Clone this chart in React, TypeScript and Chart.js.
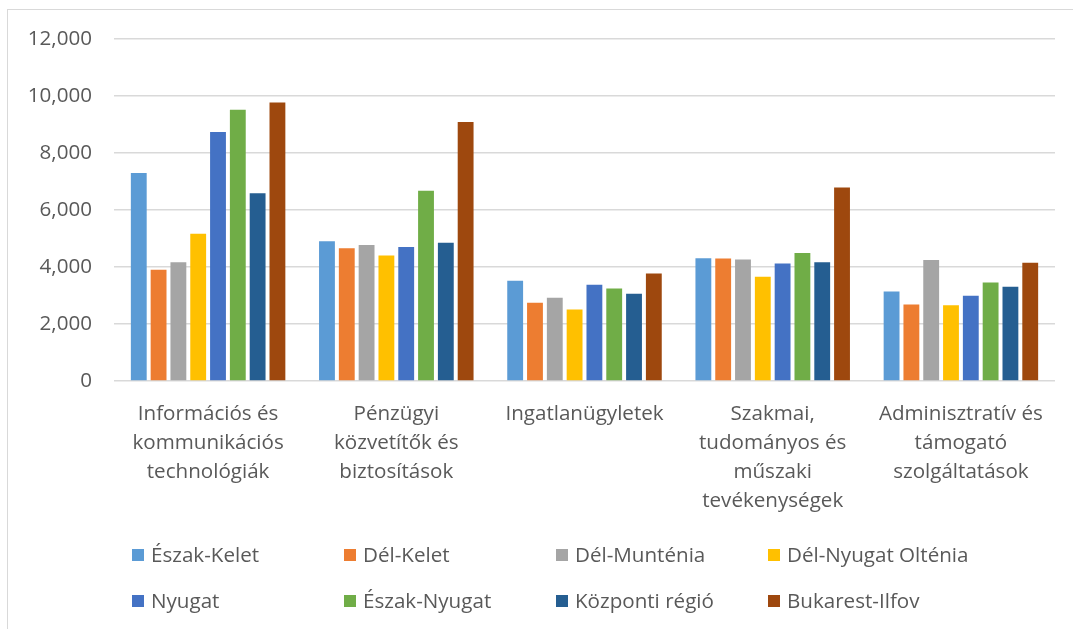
import React, { useEffect, useRef } from "react";
import { Chart, registerables } from "chart.js";

Chart.register(...registerables);

const categories: string[][] = [
  ["Információs és", "kommunikációs", "technológiák"],
  ["Pénzügyi", "közvetítők és", "biztosítások"],
  ["Ingatlanügyletek"],
  ["Szakmai,", "tudományos és", "műszaki", "tevékenységek"],
  ["Adminisztratív és", "támogató", "szolgáltatások"],
];

const seriesNames = [
  "Észak-Kelet",
  "Dél-Kelet",
  "Dél-Munténia",
  "Dél-Nyugat Olténia",
  "Nyugat",
  "Észak-Nyugat",
  "Központi régió",
  "Bukarest-Ilfov",
];

const seriesColors = [
  "#5B9BD5",
  "#ED7D31",
  "#A5A5A5",
  "#FFC000",
  "#4472C4",
  "#70AD47",
  "#255E91",
  "#9E480E",
];

const eszakKelet = [7300, 4900, 3515, 4305, 3140];
const delKelet = [3900, 4660, 2745, 4300, 2685];
const delMuntenia = [4170, 4775, 2920, 4260, 4250];
const delNyugatOltenia = [5170, 4400, 2510, 3655, 2660];
const nyugat = [8740, 4700, 3375, 4120, 2990];
const eszakNyugat = [9520, 6675, 3245, 4495, 3455];
const kozpontiRegio = [6590, 4855, 3060, 4165, 3305];
const bukarestIlfov = [9770, 9090, 3770, 6790, 4145];

const seriesValues = [
  eszakKelet,
  delKelet,
  delMuntenia,
  delNyugatOltenia,
  nyugat,
  eszakNyugat,
  kozpontiRegio,
  bukarestIlfov,
];

const yMin = 0;
const yMax = 12000;
const yStep = 2000;

const FONT = "'Open Sans', 'DejaVu Sans', sans-serif";
const FONT_SIZE = 20.6;
const TEXT_COLOR = "#595959";

const gridLegend = {
  id: "gridLegend",
  afterDraw(chart: any) {
    const ctx = chart.ctx as CanvasRenderingContext2D;
    ctx.save();
    ctx.font = `${FONT_SIZE}px ${FONT}`;
    ctx.textBaseline = "middle";
    ctx.textAlign = "left";
    chart.data.datasets.forEach((ds: any, i: number) => {
      const col = i % 4;
      const row = Math.floor(i / 4);
      const x = 132 + col * 212;
      const y = 555 + row * 46;
      ctx.fillStyle = ds.backgroundColor;
      ctx.fillRect(x, y - 6, 12, 12);
      ctx.fillStyle = TEXT_COLOR;
      ctx.fillText(ds.label, x + 19, y + 1);
    });
    ctx.restore();
  },
};

export default function App() {
  const canvasRef = useRef<HTMLCanvasElement | null>(null);

  useEffect(() => {
    if (!canvasRef.current) return;
    const chart = new Chart(canvasRef.current, {
      type: "bar",
      data: {
        labels: categories,
        datasets: seriesNames.map((name, i) => ({
          label: name,
          data: seriesValues[i],
          backgroundColor: seriesColors[i],
          borderWidth: 0,
          barPercentage: 0.8,
          categoryPercentage: 0.842,
        })),
      },
      options: {
        responsive: false,
        animation: false,
        layout: { padding: { top: 39, right: 18, bottom: 0, left: 0 } },
        plugins: {
          legend: { display: false },
          tooltip: { enabled: false },
        },
        scales: {
          x: {
            grid: { display: false, drawTicks: false },
            border: { display: false },
            ticks: {
              color: TEXT_COLOR,
              font: { family: FONT, size: FONT_SIZE, lineHeight: 1.4 },
              padding: 19,
              maxRotation: 0,
              autoSkip: false,
            },
            afterFit(scale: any) {
              scale.height = 629 - 381;
            },
          },
          y: {
            min: yMin,
            max: yMax,
            grid: { color: "#d9d9d9", lineWidth: 1.6, drawTicks: false },
            border: { display: false },
            ticks: {
              stepSize: yStep,
              color: TEXT_COLOR,
              font: { family: FONT, size: FONT_SIZE },
              padding: 22,
              callback: (v: any) => Number(v).toLocaleString("en-US"),
            },
            afterFit(scale: any) {
              scale.width = 114;
            },
          },
        },
      },
      plugins: [gridLegend],
    });
    return () => chart.destroy();
  }, []);

  return (
    <div
      style={{
        position: "fixed",
        left: 0,
        top: 0,
        width: 1073,
        height: 629,
        overflow: "hidden",
        background: "#ffffff",
      }}
    >
      <div
        style={{
          position: "absolute",
          left: 7,
          top: 9,
          width: 1100,
          height: 700,
          border: "1px solid #d9d9d9",
          boxSizing: "border-box",
        }}
      />
      <canvas
        ref={canvasRef}
        width={1073}
        height={629}
        style={{ position: "absolute", left: 0, top: 0, display: "block" }}
      />
    </div>
  );
}
